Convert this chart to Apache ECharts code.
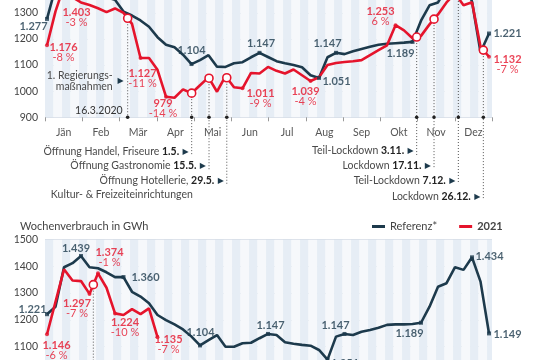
<!DOCTYPE html>
<html><head><meta charset="utf-8">
<script src="https://cdn.jsdelivr.net/npm/echarts@6/dist/echarts.min.js"></script>
<style>html,body{margin:0;padding:0;background:#fff}#c{width:540px;height:360px}</style>
</head><body><div id="c"></div>
<script>
// ---------- DATA ----------
const months = ['Jän','Feb','Mär','Apr','Mai','Jun','Jul','Aug','Sep','Okt','Nov','Dez'];
const yTicksTop = [900,1000,1100,1200,1300,1400,1500];
const yTicksBottom = [1000,1100,1200,1300,1400,1500];

// weekly consumption (GWh), weeks 1..53
const ref2020 = [1277,1397,1440,1439,1397,1393,1378,1360,1350,1305,1290,1271,1247,1207,1178,1168,1140,1104,1119,1138,1094,1093,1107,1111,1130,1147,1131,1115,1107,1100,1092,1061,1051,1130,1147,1142,1153,1162,1170,1178,1182,1184,1186,1189,1270,1329,1340,1397,1387,1434,1343,1149,1221];
const val2020 = [1176,1306,1403,1360,1340,1330,1318,1303,1317,1300,1258,1127,1127,1082,979,975,1007,992,1023,1053,998,1058,1015,1011,1070,1068,1093,1078,1068,1083,1061,1039,1053,1100,1108,1112,1115,1119,1138,1157,1176,1253,1233,1203,1212,1256,1294,1340,1375,1329,1341,1170,1132];
const ref2021 = [1221,1249,1397,1412,1439,1397,1393,1378,1360,1360,1305,1287,1262,1218,1199,1183,1164,1137,1104,1124,1143,1099,1099,1112,1114,1131,1147,1143,1116,1110,1106,1103,1087,1051,1137,1147,1143,1155,1162,1170,1181,1183,1183,1184,1189,1249,1324,1337,1397,1387,1434,1343,1149];
const val2021 = [1146,1267,1389,1347,1345,1297,1374,1320,1224,1218,1240,1221,1243,1135];

// labelled points (week index) and change vs. reference
const ref2020LabelIdx = [0,17,25,32,34,43,52];
const val2020LabelIdx = [0,2,11,14,23,31,41,52];
const val2020Pct = ['-8 %','-3 %','-11 %','-14 %','-9 %','-4 %','6 %','-7 %'];
const ref2021LabelIdx = [0,4,9,18,26,33,35,44,50,52];
const val2021LabelIdx = [0,5,6,8,13];
const val2021Pct = ['-6 %','-7 %','-1 %','-10 %','-7 %'];

// events (position in weeks)
const events2020Date = ['16.3.2020','1.5.','15.5.','29.5.','3.11.','17.11.','7.12.','26.12.'];
const events2020Text = ['1. Regierungs-\nmaßnahmen','Öffnung Handel, Friseure','Öffnung Gastronomie','Öffnung Hotellerie,','Teil-Lockdown','Lockdown','Teil-Lockdown','Lockdown'];
const events2020Extra = 'Kultur- & Freizeiteinrichtungen';
const events2020Week = [9.49,17.02,19.06,21.15,43.49,45.53,48.39,51.33];
const events2021Week = [5.45];

// ---------- LAYOUT (label offsets etc.) ----------
const ref2020LabelOff = [[-13.5,7.6],[0,-13.6],[1.5,-9.8],[17.5,3.6],[-8.5,-9.3],[-12,11.1],[18.5,-0.5]];
const val2020LabelOff = [[16.5,6.7],[12.5,31],[2,20.4],[-3,11.8],[18,9.7],[-5,15.5],[-15,-8.7],[18.5,7.8]];
const ref2021LabelOff = [[-14.5,-5],[-5,-8],[22,0],[0.5,-13],[2.5,-8.7],[17.5,3.6],[-9,-8.7],[-11.5,10.7],[17.5,-1],[18.5,1]];
const val2021LabelOff = [[9.5,15.8],[-12.5,14.5],[11.5,-15.4],[10,14],[11,7]];
const eventRowY = [null,151.7,165.5,181,151,165.7,181,196.7];
const eventLineEnd = [null,156,170,185,155,169,184,200];

const DARK = '#1d3a4c', RED = '#e5142c', FONT = 'Lato, "Liberation Sans", sans-serif';
const fmt = v => String(v).replace(/\B(?=(\d{3})+(?!\d))/g, '.');

function labelled(arr, idxs, offs, pcts, color) {
  return idxs.map((i, k) => ({
    value: [i, arr[i]],
    label: {
      show: true, position: 'inside', offset: offs[k],
      formatter: pcts ? `{v|${fmt(arr[i])}}\n{p|${pcts[k]}}` : `{v|${fmt(arr[i])}}`,
      rich: {
        v: {fontSize: 11, fontWeight: 'bold', color: color, fontFamily: FONT, lineHeight: 10, align: 'center'},
        p: {fontSize: 11, color: color, fontFamily: FONT, lineHeight: 10, align: 'center'}
      }
    }
  }));
}

const chart = echarts.init(document.getElementById('c'), null, {renderer: 'canvas'});
const weekAxis = (g) => ({
  type: 'value', gridIndex: g, min: -0.235, max: 52.35, interval: 1, position: 'bottom',
  axisLabel: {show: false}, axisLine: {show: false}, axisTick: {show: false}, splitLine: {show: false},
  splitArea: {show: true, areaStyle: {color: ['#e6edf5', '#f6f8fb']}}
});
const yAx = (g, ticks) => ({
  type: 'value', gridIndex: g, min: ticks[0], max: ticks[ticks.length - 1], interval: 100,
  axisLine: {show: false}, axisTick: {show: false},
  axisLabel: {color: '#444', fontSize: 10.5, fontFamily: FONT, margin: 7, formatter: v => String(v)},
  splitLine: {lineStyle: {color: '#d6dde6', width: 1}}
});

const option = {
  animation: false,
  backgroundColor: '#fff',
  textStyle: {fontFamily: FONT},
  title: {text: 'Wochenverbrauch in GWh', left: 20, top: 221, padding: 0,
    textStyle: {fontSize: 11, fontWeight: 'normal', color: '#444', fontFamily: FONT}},
  legend: {
    left: 372, top: 221, padding: 0, itemGap: 22, itemWidth: 13, itemHeight: 3, icon: 'rect',
    textStyle: {fontSize: 11, color: '#444', fontFamily: FONT},
    data: [{name: 'Referenz*'}, {name: '2021', textStyle: {fontWeight: 'bold'}}]
  },
  grid: [
    {left: 45, right: 48, top: -39.3, height: 156.6, outerBoundsMode: 'none', containLabel: false},
    {left: 45, right: 48, top: 239.7, height: 133.5, outerBoundsMode: 'none', containLabel: false}
  ],
  xAxis: [
    weekAxis(0),
    {type: 'category', gridIndex: 0, data: months, position: 'bottom', boundaryGap: true,
      axisLine: {show: false}, axisTick: {show: true, length: 4, lineStyle: {color: '#999'}},
      axisLabel: {color: '#555', fontSize: 10.5, fontFamily: FONT, margin: 10}, splitLine: {show: false}},
    weekAxis(1)
  ],
  yAxis: [yAx(0, yTicksTop), yAx(1, yTicksBottom)],
  series: [
    {name: 'Referenz 2020', type: 'line', xAxisIndex: 0, yAxisIndex: 0, data: ref2020.map((v, i) => [i, v]),
      symbol: 'none', lineStyle: {color: DARK, width: 2.6}, itemStyle: {color: DARK}, z: 3},
    {name: '2020', type: 'line', xAxisIndex: 0, yAxisIndex: 0, data: val2020.map((v, i) => [i, v]),
      symbol: 'none', lineStyle: {color: RED, width: 2.6}, itemStyle: {color: RED}, z: 4},
    {name: 'Referenz*', type: 'line', xAxisIndex: 2, yAxisIndex: 1, data: ref2021.map((v, i) => [i, v]),
      symbol: 'none', lineStyle: {color: DARK, width: 2.6}, itemStyle: {color: DARK}, z: 3},
    {name: '2021', type: 'line', xAxisIndex: 2, yAxisIndex: 1, data: val2021.map((v, i) => [i, v]),
      symbol: 'none', lineStyle: {color: RED, width: 2.6}, itemStyle: {color: RED}, z: 4},
    {type: 'scatter', xAxisIndex: 0, yAxisIndex: 0, symbol: 'rect', symbolSize: 4, itemStyle: {color: DARK}, z: 6, clip: false,
      data: labelled(ref2020, ref2020LabelIdx, ref2020LabelOff, null, DARK)},
    {type: 'scatter', xAxisIndex: 0, yAxisIndex: 0, symbol: 'circle', symbolSize: 4, itemStyle: {color: RED}, z: 6, clip: false,
      data: labelled(val2020, val2020LabelIdx, val2020LabelOff, val2020Pct, RED)},
    {type: 'scatter', xAxisIndex: 2, yAxisIndex: 1, symbol: 'rect', symbolSize: 4, itemStyle: {color: DARK}, z: 6, clip: false,
      data: labelled(ref2021, ref2021LabelIdx, ref2021LabelOff, null, DARK)},
    {type: 'scatter', xAxisIndex: 2, yAxisIndex: 1, symbol: 'circle', symbolSize: 4, itemStyle: {color: RED}, z: 6, clip: false,
      data: labelled(val2021, val2021LabelIdx, val2021LabelOff, val2021Pct, RED)}
  ]
};
chart.setOption(option);

// ---------- event annotations, positioned through the chart's scales ----------
const P0 = (w, v) => chart.convertToPixel({xAxisIndex: 0, yAxisIndex: 0}, [w, v]);
const P1 = (w, v) => chart.convertToPixel({xAxisIndex: 2, yAxisIndex: 1}, [w, v]);
const interp = (arr, w) => { const i = Math.floor(w), f = w - i; return arr[i] + (arr[i + 1] - arr[i]) * f; };
const g = [];
const axisY0 = P0(0, yTicksTop[0])[1];
const dotted = (x, y1, y2) => g.push({type: 'line', z: 1, shape: {x1: x, y1: y1, x2: x, y2: y2},
  style: {stroke: '#555', lineWidth: 1, lineDash: [1, 2]}});
const ring = (x, y) => g.push({type: 'circle', z: 20, shape: {cx: x, cy: y, r: 4},
  style: {fill: '#fff', stroke: RED, lineWidth: 1.6}});
const dot = (x, y) => g.push({type: 'circle', z: 20, shape: {cx: x, cy: y, r: 1.8}, style: {fill: '#222'}});
const richStyles = {
  n: {fill: '#4a4a4a', fontSize: 10.5, fontFamily: FONT},
  b: {fill: '#222', fontSize: 10.5, fontWeight: 'bold', fontFamily: FONT},
  t: {fill: DARK, fontSize: 8, fontFamily: 'DejaVu Sans'}
};
events2020Week.forEach((w, k) => {
  const p = P0(w, interp(val2020, w));
  if (k === 0) {
    dotted(p[0], p[1], axisY0);
    g.push({type: 'text', z: 20, style: {text: events2020Date[0], x: p[0] - 5, y: axisY0 - 7, align: 'right',
      verticalAlign: 'middle', fill: '#333', fontSize: 10.5, fontFamily: FONT}});
    g.push({type: 'text', z: 20, style: {text: events2020Text[0], x: p[0] - 15, y: 81.5, align: 'right',
      verticalAlign: 'middle', fill: '#4a4a4a', fontSize: 10.5, fontFamily: FONT, lineHeight: 11}});
    g.push({type: 'text', z: 20, style: {text: '▶', x: p[0] - 4, y: 80.5, align: 'right',
      verticalAlign: 'middle', fill: DARK, fontSize: 8, fontFamily: 'DejaVu Sans'}});
  } else {
    dotted(p[0], Math.max(p[1], -5), eventLineEnd[k]);
    g.push({type: 'text', z: 20, style: {text: `{n|${events2020Text[k]} }{b|${events2020Date[k]}} {t|▶}`,
      rich: richStyles, x: p[0] - 3, y: eventRowY[k], align: 'right', verticalAlign: 'middle'}});
    if (k === 3) {
      g.push({type: 'text', z: 20, style: {text: events2020Extra, x: p[0] - 34, y: eventRowY[k] + 13.3,
        align: 'right', verticalAlign: 'middle', fill: '#4a4a4a', fontSize: 10.5, fontFamily: FONT}});
    }
  }
  dot(p[0], axisY0);
  if (p[1] > 0) ring(p[0], p[1]);
});
events2021Week.forEach(w => {
  const p = P1(w, interp(val2021, w));
  dotted(p[0], p[1], 365);
  ring(p[0], p[1]);
});
chart.setOption({graphic: g});
</script></body></html>
